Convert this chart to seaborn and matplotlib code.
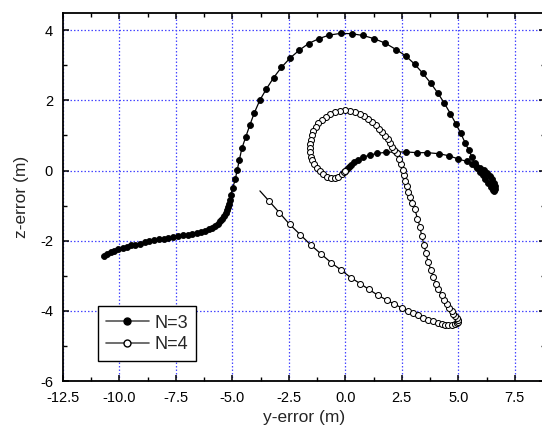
import numpy as np
import pandas as pd
import matplotlib
matplotlib.use("Agg")
import matplotlib.pyplot as plt
from matplotlib.lines import Line2D
from matplotlib.ticker import MultipleLocator, FormatStrFormatter
import seaborn as sns

# ---- data ----
n3_y = [-10.66, -10.53, -10.38, -10.22, -10.04, -9.85, -9.67, -9.48, -9.29, -9.08,
        -8.88, -8.67, -8.45, -8.24, -8.03, -7.83, -7.61, -7.40, -7.20, -6.98,
        -6.77, -6.58, -6.39, -6.21, -6.05, -5.90, -5.77, -5.65, -5.54, -5.44,
        -5.37, -5.29, -5.24, -5.18, -5.13, -5.09, -5.07, -4.98, -4.87, -4.78,
        -4.69, -4.58, -4.41, -4.23, -4.03, -3.78, -3.49, -3.17, -2.83, -2.44,
        -2.04, -1.63, -1.17, -0.72, -0.21, 0.28, 0.78, 1.27, 1.77, 2.24,
        2.67, 3.07, 3.43, 3.78, 4.10, 4.38, 4.65, 4.89, 5.10, 5.30,
        5.46, 5.59, 5.72, 5.84, 5.96, 6.08, 6.20, 6.32, 6.43, 6.52,
        6.58, 6.62, 6.61, 6.56, 6.48, 6.38, 6.26, 6.12, 5.97, 5.80,
        5.60, 5.37, 5.00, 4.59, 4.15, 3.63, 3.16, 2.69, 2.24, 1.79,
        1.41, 1.07, 0.78, 0.56, 0.40, 0.26, 0.14, 0.06, 0.00]
n3_z = [-2.44, -2.38, -2.32, -2.28, -2.24, -2.20, -2.17, -2.13, -2.11, -2.08,
        -2.04, -2.01, -1.98, -1.95, -1.94, -1.92, -1.89, -1.87, -1.85, -1.83,
        -1.80, -1.78, -1.75, -1.72, -1.68, -1.63, -1.57, -1.51, -1.44, -1.37,
        -1.29, -1.20, -1.13, -1.03, -0.94, -0.84, -0.69, -0.49, -0.25, 0.03,
        0.30, 0.63, 0.95, 1.29, 1.64, 2.01, 2.33, 2.65, 2.94, 3.21,
        3.43, 3.62, 3.76, 3.86, 3.91, 3.90, 3.85, 3.76, 3.63, 3.45,
        3.27, 3.03, 2.77, 2.49, 2.20, 1.92, 1.62, 1.33, 1.07, 0.79,
        0.58, 0.40, 0.21, 0.06, -0.04, -0.14, -0.25, -0.36, -0.46, -0.54,
        -0.58, -0.52, -0.44, -0.35, -0.25, -0.15, -0.06, 0.02, 0.08, 0.14,
        0.20, 0.26, 0.33, 0.42, 0.48, 0.51, 0.51, 0.53, 0.53, 0.52,
        0.49, 0.44, 0.38, 0.31, 0.24, 0.17, 0.10, 0.04, 0.00]

n4_y = [-3.78, -3.36, -2.92, -2.47, -1.99, -1.53, -1.07, -0.62, -0.18, 0.24,
        0.65, 1.05, 1.43, 1.83, 2.17, 2.49, 2.79, 3.01, 3.23, 3.45,
        3.67, 3.89, 4.09, 4.26, 4.41, 4.56, 4.71, 4.84, 4.93, 4.99,
        4.99, 4.93, 4.86, 4.78, 4.70, 4.59, 4.48, 4.37, 4.26, 4.12,
        4.01, 3.89, 3.79, 3.67, 3.57, 3.48, 3.38, 3.30, 3.19, 3.08,
        2.97, 2.86, 2.79, 2.72, 2.66, 2.60, 2.54, 2.46, 2.38, 2.27,
        2.17, 2.08, 1.98, 1.87, 1.76, 1.64, 1.51, 1.36, 1.20, 1.02,
        0.84, 0.65, 0.43, 0.21, -0.01, -0.23, -0.46, -0.68, -0.87, -1.05,
        -1.19, -1.31, -1.41, -1.49, -1.53, -1.56, -1.56, -1.56, -1.53, -1.46,
        -1.37, -1.25, -1.11, -0.97, -0.82, -0.63, -0.46, -0.31, -0.16, -0.04,
        0.00]
n4_z = [-0.58, -0.88, -1.20, -1.53, -1.83, -2.12, -2.38, -2.63, -2.84, -3.05,
        -3.22, -3.39, -3.55, -3.69, -3.81, -3.91, -4.01, -4.07, -4.13, -4.21,
        -4.25, -4.29, -4.34, -4.38, -4.39, -4.39, -4.39, -4.37, -4.35, -4.31,
        -4.26, -4.21, -4.15, -4.08, -4.00, -3.91, -3.81, -3.69, -3.55, -3.39,
        -3.22, -3.03, -2.84, -2.62, -2.36, -2.12, -1.87, -1.60, -1.37, -1.11,
        -0.92, -0.76, -0.61, -0.44, -0.29, -0.13, 0.03, 0.18, 0.34, 0.50,
        0.58, 0.67, 0.78, 0.89, 0.98, 1.10, 1.19, 1.29, 1.38, 1.48,
        1.55, 1.62, 1.67, 1.70, 1.72, 1.70, 1.66, 1.60, 1.53, 1.45,
        1.35, 1.24, 1.13, 1.00, 0.88, 0.77, 0.65, 0.53, 0.40, 0.29,
        0.18, 0.07, -0.02, -0.11, -0.17, -0.20, -0.20, -0.17, -0.11, -0.04,
        0.00]

series_labels = ["N=3", "N=4"]
x_ticks = [-12.5, -10.0, -7.5, -5.0, -2.5, 0.0, 2.5, 5.0, 7.5]
y_ticks = [-6, -4, -2, 0, 2, 4]

df3 = pd.DataFrame({"y": n3_y, "z": n3_z, "t": np.arange(len(n3_y))})
df4 = pd.DataFrame({"y": n4_y, "z": n4_z, "t": np.arange(len(n4_y))})

sns.set_style("ticks")
plt.rcParams["font.family"] = ["Liberation Sans", "DejaVu Sans"]
plt.rcParams["axes.unicode_minus"] = False

fig = plt.figure(figsize=(5.42, 4.37), dpi=100)
ax = fig.add_axes([0.1159, 0.128, 0.8895, 0.843])

sns.lineplot(data=df3, x="y", y="z", sort=False, estimator=None, ax=ax,
             color="black", linewidth=0.9, marker="o", markersize=4.3,
             markerfacecolor="black", markeredgecolor="black", markeredgewidth=0.6,
             legend=False, zorder=3)
sns.lineplot(data=df4, x="y", y="z", sort=False, estimator=None, ax=ax,
             color="black", linewidth=0.9, marker="o", markersize=4.3,
             markerfacecolor="white", markeredgecolor="black", markeredgewidth=0.75,
             markevery=slice(1, None), legend=False, zorder=3)

ax.set_xlim(-12.5, 8.83)
ax.set_ylim(-6, 4.5)
ax.xaxis.set_major_locator(plt.FixedLocator(x_ticks))
ax.xaxis.set_minor_locator(MultipleLocator(1.25))
ax.xaxis.set_major_formatter(FormatStrFormatter("%.1f"))
ax.yaxis.set_major_locator(plt.FixedLocator(y_ticks))
ax.yaxis.set_minor_locator(MultipleLocator(1))
ax.yaxis.set_major_formatter(FormatStrFormatter("%d"))

ax.grid(True, which="major", color="#4747ff", linestyle=(0, (1.2, 1.6)), linewidth=0.9)
ax.set_axisbelow(True)

for s in ax.spines.values():
    s.set_linewidth(1.3)
    s.set_color("black")

ax.tick_params(which="both", direction="in", top=True, right=True,
               colors="black", labelsize=10.5)
ax.tick_params(which="major", length=4.5, width=1.1)
ax.tick_params(which="minor", length=3, width=1.0)
ax.tick_params(axis="x", pad=7)
ax.tick_params(axis="y", pad=7)

ax.set_xlabel("y-error (m)", fontsize=12.5, labelpad=4)
ax.set_ylabel("z-error (m)", fontsize=12.5, labelpad=8)

handles = [
    Line2D([], [], color="#555555", linewidth=1.2, marker="o", markersize=5,
           markerfacecolor="black", markeredgecolor="black"),
    Line2D([], [], color="#555555", linewidth=1.2, marker="o", markersize=5,
           markerfacecolor="white", markeredgecolor="black"),
]
leg = ax.legend(handles, series_labels, loc="lower left",
                bbox_to_anchor=(0.072, 0.054), borderaxespad=0,
                fontsize=13, frameon=True, fancybox=False, handlelength=2.4,
                handletextpad=0.3, borderpad=0.45, labelspacing=0.25)
leg.get_frame().set_edgecolor("black")
leg.get_frame().set_linewidth(1.0)
leg.get_frame().set_alpha(1)

fig.savefig("out.png", dpi=100)
